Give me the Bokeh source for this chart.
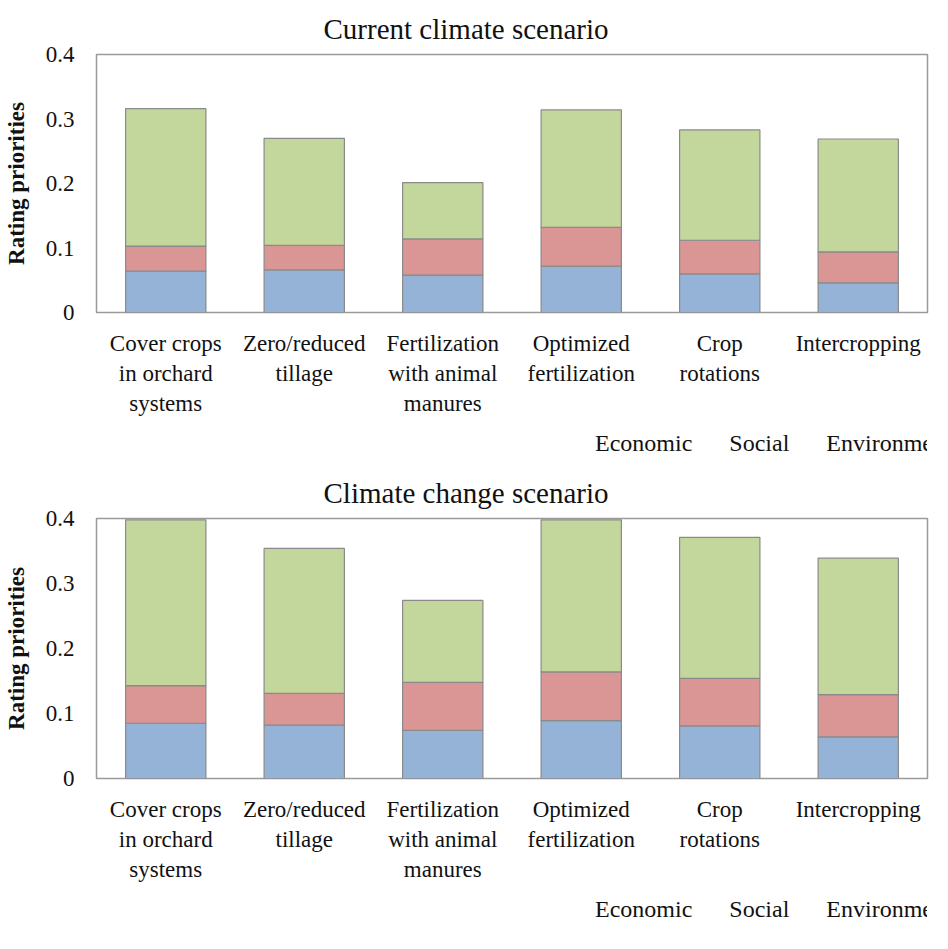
import numpy as np
from bokeh.plotting import figure
from bokeh.layouts import column
from bokeh.models import ColumnDataSource, Range1d, FixedTicker, Legend, LegendItem, Title
from bokeh.embed import file_html
from bokeh.resources import INLINE

categories = ["Cover crops\nin orchard\nsystems", "Zero/reduced\ntillage",
              "Fertilization\nwith animal\nmanures", "Optimized\nfertilization",
              "Crop\nrotations", "Intercropping"]
series = ["Economic", "Social", "Environmental"]
colors = ["#95B3D7", "#D99694", "#C3D69B"]

# Current climate scenario (segment heights)
cur_economic = [0.064, 0.066, 0.058, 0.072, 0.060, 0.046]
cur_social = [0.039, 0.038, 0.056, 0.060, 0.052, 0.048]
cur_environmental = [0.213, 0.166, 0.0875, 0.182, 0.171, 0.175]

# Climate change scenario (segment heights)
cc_economic = [0.085, 0.082, 0.074, 0.089, 0.081, 0.064]
cc_social = [0.058, 0.049, 0.074, 0.075, 0.073, 0.065]
cc_environmental = [0.255, 0.223, 0.126, 0.234, 0.217, 0.210]

y_ticks = [0, 0.1, 0.2, 0.3, 0.4]
SERIF = "Liberation Serif"
EDGE = "#8a8a8a"


def make_chart(title, econ, soc, env, height):
    parts = np.array([econ, soc, env], dtype=float)
    tops = np.cumsum(parts, axis=0)
    bottoms = tops - parts
    p = figure(x_range=categories, y_range=Range1d(0, 0.4),
               width=932, height=height, output_backend="svg", toolbar_location=None)
    p.title = Title(text=title, text_font=SERIF, text_font_size="29px", text_font_style="normal",
                    align="left", offset=227, standoff=20, text_color="#111111")
    for i, name in enumerate(series):
        src = ColumnDataSource(dict(cat=categories, top=tops[i], bottom=bottoms[i]))
        p.vbar(x="cat", top="top", bottom="bottom", width=0.58, source=src,
               fill_color=colors[i], line_color=EDGE, line_width=1.2)
    p.xgrid.grid_line_color = None
    p.ygrid.grid_line_color = None
    p.outline_line_color = "#9a9a9a"
    p.outline_line_width = 1.5
    p.yaxis.ticker = FixedTicker(ticks=y_ticks)
    p.yaxis.major_label_overrides = {0: "0"}
    for ax in (p.xaxis[0], p.yaxis[0]):
        ax.axis_line_color = None
        ax.major_tick_line_color = None
        ax.minor_tick_line_color = None
        ax.major_label_text_font = SERIF
        ax.major_label_text_font_size = "23px"
        ax.major_label_text_color = "#111111"
    p.yaxis.major_label_standoff = 16
    p.xaxis.major_label_standoff = 12
    p.yaxis.axis_label = "Rating priorities"
    p.yaxis.axis_label_text_font = SERIF
    p.yaxis.axis_label_text_font_size = "23px"
    p.yaxis.axis_label_text_font_style = "bold"
    p.yaxis.axis_label_text_color = "#111111"
    p.yaxis.axis_label_standoff = 14
    return p


def make_legend(height):
    q = figure(width=932, height=height, x_range=Range1d(0, 1), y_range=Range1d(0, 1),
               output_backend="svg", toolbar_location=None,
               x_axis_location=None, y_axis_location=None)
    q.xgrid.grid_line_color = None
    q.ygrid.grid_line_color = None
    q.outline_line_color = None
    items = []
    for name, c in zip(series, colors):
        r = q.vbar(x=[], top=[], width=0.5, fill_color=c, line_color=EDGE)
        items.append(LegendItem(label=name, renderers=[r]))
    legend = Legend(items=items, orientation="horizontal", location=(484, 2),
                    label_text_font=SERIF, label_text_font_size="24px",
                    label_text_color="#111111", glyph_width=12, glyph_height=12,
                    spacing=22, label_standoff=3, border_line_color=None,
                    background_fill_alpha=0, padding=4, margin=0)
    q.add_layout(legend)
    return q


p1 = make_chart("Current climate scenario", cur_economic, cur_social, cur_environmental, 418)
l1 = make_legend(46)
p2 = make_chart("Climate change scenario", cc_economic, cc_social, cc_environmental, 420)
l2 = make_legend(46)
layout = column(p1, l1, p2, l2, spacing=0)
open("out.html", "w").write(file_html(layout, INLINE))
